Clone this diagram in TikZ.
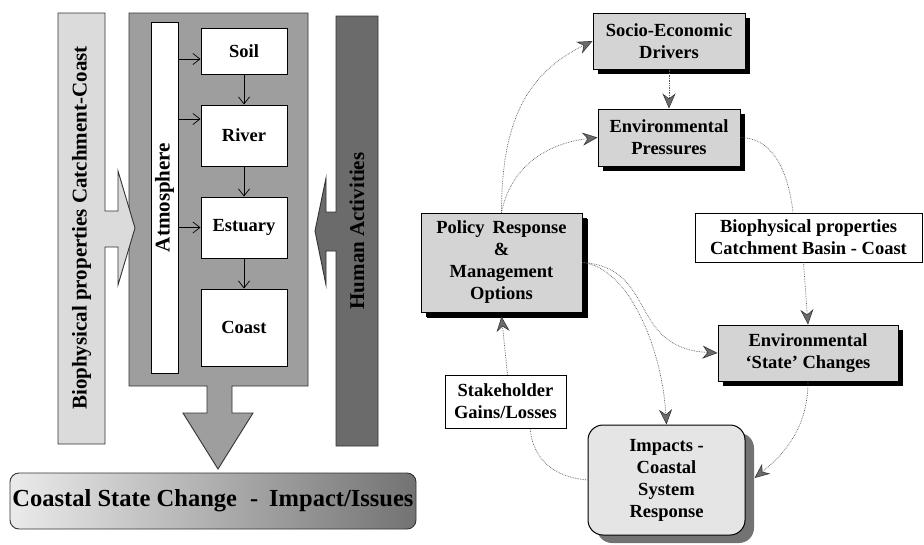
\documentclass[tikz,border=0pt]{standalone}
\usepackage{fontspec}
\setmainfont{Liberation Serif}
\usetikzlibrary{arrows.meta,shadows}
\begin{document}
\begin{tikzpicture}[x=1pt,y=-1pt,
  lbl/.style={font=\bfseries\fontsize{18.5}{22}\selectfont, align=center, inner sep=0pt},
  rlbl/.style={font=\bfseries\fontsize{21}{25}\selectfont, rotate=90, inner sep=0pt},
  wbox/.style={draw=black, line width=1pt, fill=white, lbl},
  gbox/.style={draw=black, line width=1pt, fill=black!17, lbl,
    drop shadow={shadow xshift=5pt, shadow yshift=-5pt, fill=black, opacity=1}},
  panel/.style={draw=black!80, line width=0.9pt},
  flow/.style={draw=black, line width=0.7pt, -{Straight Barb[length=7pt,width=11pt]}},
  link/.style={draw=black!65, line width=0.7pt, densely dotted},
  linkarr/.style={link, -{Stealth[length=15pt,width=13pt,inset=5pt,fill=black!58,color=black!78,line width=0.6pt]}}
]
\useasboundingbox (0,0) rectangle (924,544);
\fill[white] (0,0) rectangle (924,544);

% ---------- left panel ----------
\draw[panel, fill=black!38] (129,13) -- (308,13) -- (308,386) -- (232,386) -- (232,413)
  -- (253,413) -- (218,469) -- (183,413) -- (207,413) -- (207,386) -- (129,386) -- cycle;

\draw[panel, fill=black!14] (58,13) -- (105,13) -- (105,211) -- (118,211) -- (118,171)
  -- (135,228) -- (118,285) -- (118,247) -- (105,247) -- (105,444) -- (58,444) -- cycle;
\node[rlbl] (biolbl) at (81.5,228) {Biophysical properties Catchment-Coast};

\draw[panel, fill=black!58] (336,16) -- (378,16) -- (378,446) -- (336,446) -- (336,251)
  -- (326,251) -- (326,285) -- (315,231) -- (326,178) -- (326,212) -- (336,212) -- cycle;
\node[rlbl] (humlbl) at (357,231) {Human Activities};

\node[draw=black, line width=0.9pt, fill=white, minimum width=27pt, minimum height=351pt, inner sep=0pt] (atm) at (164.5,197.5) {};
\node[rlbl] (atmlbl) at (atm.center) {Atmosphere};

\node[wbox, minimum width=86pt, minimum height=46pt] (soil) at (244,51) {Soil};
\node[wbox, minimum width=86pt, minimum height=61pt] (river) at (244,135.5) {River};
\node[wbox, minimum width=86pt, minimum height=61pt] (estuary) at (244,227.5) {Estuary};
\node[wbox, minimum width=86pt, minimum height=77pt] (coast) at (244,327.5) {Coast};

\coordinate (soilin) at ([yshift=-8pt]soil.west);
\coordinate (riverin) at ([yshift=16.5pt]river.west);
\coordinate (estin) at (estuary.west);
\draw[flow] (atm.east |- soilin) -- (soilin);
\draw[flow] (atm.east |- riverin) -- (riverin);
\draw[flow] (atm.east |- estin) -- (estin);
\draw[flow] (soil.south) -- (river.north);
\draw[flow] (river.south) -- (estuary.north);
\draw[flow] (estuary.south) -- (coast.north);

\node[draw=black!80, line width=0.9pt, rounded corners=9pt, left color=black!8, right color=black!55,
  minimum width=406pt, minimum height=56pt, inner sep=0pt,
  font=\bfseries\fontsize{24.5}{28}\selectfont] (csc) at (213,501)
  {Coastal State Change\hspace{13pt}-\hspace{11pt}Impact/Issues};

% ---------- right panel ----------
\node[gbox, minimum width=152pt, minimum height=56pt] (socio) at (669,41) {Socio-Economic\\Drivers};
\node[gbox, minimum width=142pt, minimum height=57pt] (envp) at (669,137.5) {Environmental\\Pressures};
\node[wbox, minimum width=227pt, minimum height=49pt] (bio2) at (808.5,237.5) {Biophysical properties\\Catchment Basin - Coast};
\node[gbox, minimum width=161pt, minimum height=99pt,
  drop shadow={shadow xshift=6pt, shadow yshift=-6pt, fill=black, opacity=1}] (pol) at (501.5,262.5)
  {Policy\hspace{8pt}Response\\\&\\Management\\Options};
\node[gbox, minimum width=180pt, minimum height=56pt] (envs) at (808,353) {Environmental\\`State' Changes};
\node[wbox, minimum width=121pt, minimum height=53pt] (stake) at (505.5,401.5) {Stakeholder\\Gains/Losses};
\node[draw=black, line width=1pt, fill=black!10, rounded corners=15pt, lbl,
  minimum width=157pt, minimum height=110pt,
  drop shadow={shadow xshift=9pt, shadow yshift=-8pt, fill=black!55, opacity=1}] (imp) at (666.5,480)
  {Impacts -\\Coastal\\System\\Response};

\draw[linkarr] (pol.north) .. controls +(0,-100) and +(-60,30) .. (socio.west);
\draw[linkarr] (pol.north) .. controls +(10,-50) and +(-45,5) .. (envp.west);
\draw[linkarr] (socio.south) -- (envp.north);
\coordinate (biotop) at ([xshift=-15.5pt]bio2.north);
\draw[link] (envp.east) .. controls +(30,0) and +(-5,-45) .. (biotop);
\draw[linkarr] ([xshift=-5pt]bio2.south) -- (envs.north);
\coordinate (impin) at ([xshift=9pt,yshift=2pt]imp.east);
\draw[linkarr] (envs.south) .. controls +(0,50) and +(25,-20) .. (impin);
\coordinate (stakebot) at ([xshift=24.5pt]stake.south);
\draw[link] (imp.west) .. controls +(-35,-3) and +(3,30) .. (stakebot);
\coordinate (polin) at ([yshift=-4pt]pol.south);
\draw[linkarr] ([xshift=2pt]stake.north) -- (polin);
\draw[linkarr] (pol.east) .. controls +(75,5) and +(-90,-5) .. (envs.west);
\draw[linkarr] (pol.east) .. controls +(45,5) and +(-5,-80) .. (imp.north);
\end{tikzpicture}
\end{document}
